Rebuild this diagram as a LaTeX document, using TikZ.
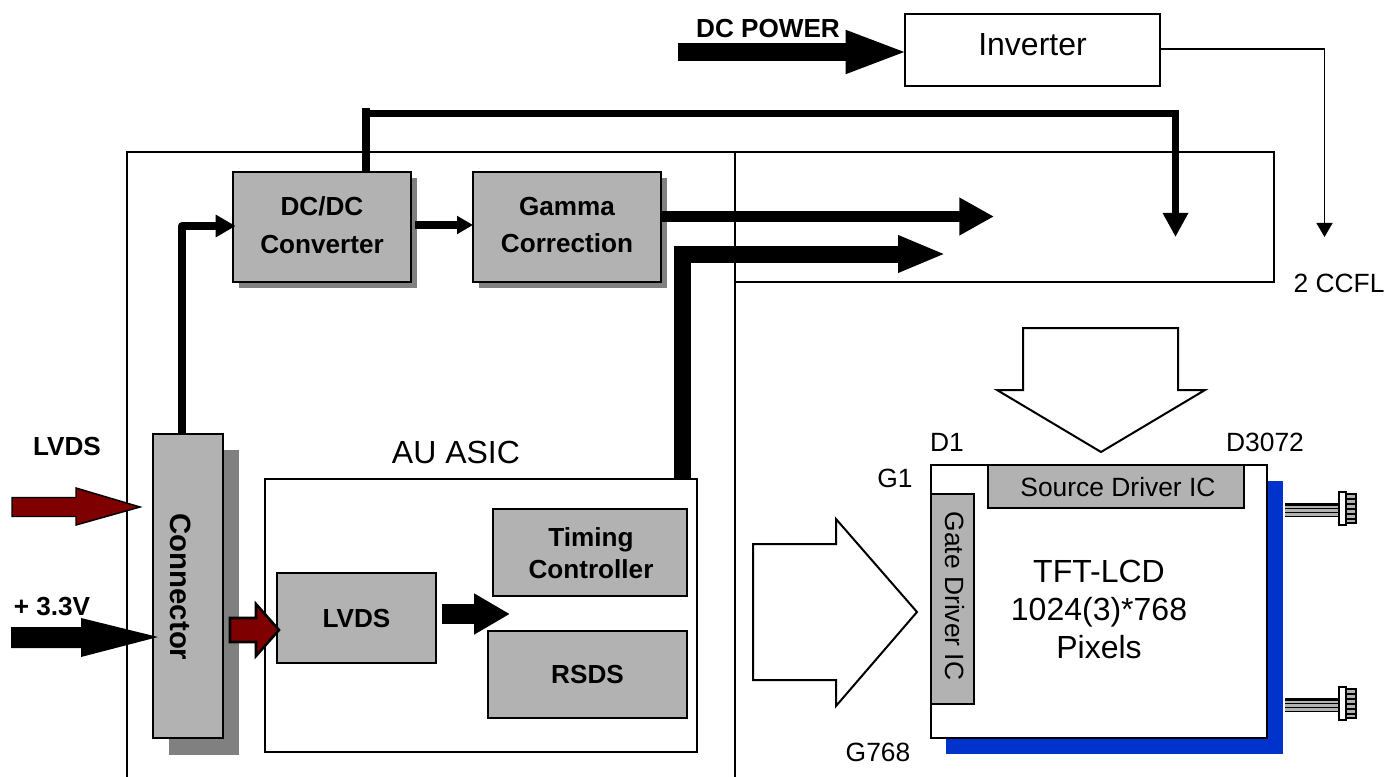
\documentclass[tikz,border=0pt]{standalone}
\usepackage{fontspec}
\setmainfont{Liberation Sans}
\usetikzlibrary{arrows.meta,calc}
\newcommand{\normtxt}{\fontsize{19.8pt}{28.5pt}\selectfont}
\newcommand{\bigtxt}{\fontsize{24pt}{28.5pt}\selectfont}
\newcommand{\boldtxt}{\fontsize{19.6pt}{28pt}\selectfont\bfseries}
\definecolor{boxgray}{HTML}{B2B2B2}
\definecolor{shadowgray}{HTML}{808080}
\definecolor{dkred}{HTML}{7F0000}
\definecolor{panelblue}{HTML}{0033CC}
\tikzset{
  x=0.75pt,y=-0.75pt,
  thinline/.style={draw=black,line width=1.2pt},
  plainbox/.style={draw=black,fill=white,line width=1.9pt,inner sep=0pt,outer sep=0pt,align=center},
  graybox/.style={draw=black,fill=boxgray,line width=1.9pt,inner sep=0pt,outer sep=0pt,align=center,font=\boldtxt},
  icbox/.style={draw=black,fill=boxgray,line width=1.9pt,inner sep=0pt,outer sep=0pt,align=center,font=\normtxt},
  shadowbox/.style={fill=shadowgray,draw=none},
  label/.style={inner sep=0pt,font=\normtxt},
  boldlabel/.style={inner sep=0pt,font=\boldtxt,align=center},
  hollow/.style={draw=black,fill=white,line width=1.5pt,line join=miter},
  redarrow/.style={draw=black,fill=dkred,line width=1.1pt,line join=miter},
  blackarrow/.style={fill=black,draw=none},
}
\newcommand{\cable}[2]{%
  \begin{scope}[shift={(#1,#2)}]
    \fill[boxgray] (1285,0) rectangle (1338,12);
    \draw[line width=2.2pt] (1285,-0.5) -- (1338,-0.5);
    \draw[line width=0.7pt] (1285,3.5) -- (1338,3.5);
    \draw[line width=0.7pt] (1285,7.5) -- (1338,7.5);
    \draw[line width=0.7pt] (1285,11.5) -- (1338,11.5);
    \draw[fill=white,line width=1.3pt] (1339,-13) rectangle (1346,20);
    \draw[fill=boxgray,line width=1pt] (1346,-11) rectangle (1356,18);
    \foreach \yy in {-6,-1,4,9,14}{\draw[line width=1.7pt] (1346,\yy) -- (1356,\yy);}
  \end{scope}}
\begin{document}
\begin{tikzpicture}
\useasboundingbox (0,0) rectangle (1387,777);
% frames
\draw[thinline] (127,777) -- (127,152) -- (1274,152) -- (1274,282) -- (735,282);
\draw[thinline] (735,152) -- (735,777);

% shadows
\fill[shadowbox] (239,178) rectangle (417,288);
\fill[shadowbox] (479,178) rectangle (667,288);
\fill[shadowbox] (169,450) rectangle (239,755);
\fill[shadowbox] (283,579) rectangle (442,669);
\fill[shadowbox] (499,514) rectangle (693,602);
\fill[shadowbox] (494,636) rectangle (693,724);
\fill[panelblue] (946,481) rectangle (1283,754);

% nodes
\node[plainbox,minimum width=255*.75pt,minimum height=72*.75pt] (inv) at (1032.5,50) {};
\node[label,font=\bigtxt] (invlabel) at (1032.5,45) {Inverter};
\node[graybox,minimum width=178*.75pt,minimum height=110*.75pt] (dcdc) at (322,227) {};
\node[boldlabel] (dcdclabel) at (322,225) {DC/DC\\Converter};
\node[graybox,minimum width=188*.75pt,minimum height=110*.75pt] (gamma) at (567,227) {};
\node[boldlabel] (gammalabel) at (567,225) {Gamma\\Correction};
\node[graybox,minimum width=70*.75pt,minimum height=304*.75pt] (conn) at (188,586) {};
\node[boldlabel,font=\fontsize{22pt}{28pt}\selectfont\bfseries,rotate=-90] (connlabel) at (181,587) {Connector};
\node[plainbox,minimum width=432*.75pt,minimum height=273*.75pt] (asic) at (481,615.5) {};
\node[label,font=\bigtxt] (asiclabel) at (456,452) {AU ASIC};
\node[graybox,minimum width=159*.75pt,minimum height=90*.75pt] (lvds) at (356.5,618) {LVDS};
\node[graybox,minimum width=194*.75pt,minimum height=87*.75pt] (timing) at (590,552.5) {};
\node[boldlabel,font=\fontsize{19.6pt}{24pt}\selectfont\bfseries] (timinglabel) at (591,553) {Timing\\Controller};
\node[graybox,minimum width=199*.75pt,minimum height=87*.75pt] (rsds) at (587.5,674.5) {RSDS};
\node[plainbox,minimum width=336*.75pt,minimum height=273*.75pt] (panel) at (1099,601.5) {};
\node[label,align=center,font=\fontsize{24pt}{28.5pt}\selectfont] (tft) at (1099,609) {TFT-LCD\\1024(3)*768\\Pixels};
\node[icbox,minimum width=256*.75pt,minimum height=43*.75pt] (src) at (1116,486.5) {};
\node[label] (srclabel) at (1118,487) {Source Driver IC};
\node[icbox,minimum width=43*.75pt,minimum height=210*.75pt] (gate) at (952.5,599) {};
\node[label,rotate=-90] (gatelabel) at (955,596) {Gate Driver IC};

% labels
\node[boldlabel] (llvds) at (67,447) {LVDS};
\node[boldlabel] (l33) at (52,607) {+ 3.3V};
\node[boldlabel] (ldc) at (768,29) {DC POWER};
\node[label] (d1) at (947,442) {D1};
\node[label] (d3072) at (1265,442) {D3072};
\node[label] (g1) at (895,478) {G1};
\node[label] (g768) at (878,752) {G768};
\node[label] (ccfl) at (1339,283) {2 CCFL};

% free ends
\coordinate (dcsrc) at (678,52);
\coordinate (gammaend) at (994,216.5);
\coordinate (asicend) at (946,254);
\coordinate (dcdrop) at (1175.5,237);
\coordinate (ccflend) at (1324.5,237);
\coordinate (lvdsend) at (510,614);
\coordinate (lvdstip) at (140,507);
\coordinate (vtip) at (158,637);
\coordinate (innertip) at (279,630);

% connectors
\draw[line width=13.5pt,-{Triangle[length=47.5pt,width=29pt]}] (dcsrc) -- ([xshift=3pt]inv.west |- dcsrc);
\draw[line width=1pt,line join=miter,-{Triangle[length=10.5pt,width=12pt]}] (inv.east |- 0,49) -- (1324.5,49) -- (ccflend);
\draw[line width=6pt] ($(dcdc.north)+(33pt,0)$) -- (366,108);
\draw[line width=5.5pt,line join=miter,-{Triangle[length=18pt,width=18pt]}] (366,113.5) -| (dcdrop);
\draw[line width=6pt,line join=round,-{Triangle[length=15pt,width=16pt]}] ($(conn.north)+(-4.5pt,0)$) -- (182,226) -- ([xshift=2pt]dcdc.west |- 0,226);
\draw[line width=5.5pt,-{Triangle[length=12pt,width=13pt]}] (415,225) -- (gamma.west |- 0,225);
\draw[line width=8.6pt,-{Triangle[length=26pt,width=26.6pt]}] (gamma.east |- gammaend) -- (gammaend);
\draw[line width=12.75pt,line join=miter,-{Triangle[length=36pt,width=25.5pt]}] (682.5,479) |- (asicend);
\draw[line width=15pt,-{Triangle[length=27pt,width=29pt]}] (lvds.east |- lvdsend) ++(6,0) -- (lvdsend);

% input arrows
\draw[redarrow] (lvdstip) -- (76,525) -- (76,516.5) -- (12,516.5) -- (12,497.5) -- (76,497.5) -- (76,488) -- cycle;
\fill[blackarrow] (vtip) -- (81,657) -- (81,648) -- (11,648) -- (11,627) -- (81,627) -- (81,618) -- cycle;
\draw[redarrow,line width=1.9pt] (innertip) -- (256,656) -- (256,642) -- (230,642) -- (230,618) -- (256,618) -- (256,604) -- cycle;

% hollow arrows
\draw[hollow] (1023,328) -- (1178,328) -- (1178,390) -- (1205,390) -- (1101,452) -- (997,390) -- (1023,390) -- cycle;
\draw[hollow] (753,544) -- (836,544) -- (836,519) -- (917,612) -- (836,706) -- (836,680) -- (753,680) -- cycle;

% cables
\cable{0}{505}
\cable{0}{700}
\end{tikzpicture}
\end{document}
